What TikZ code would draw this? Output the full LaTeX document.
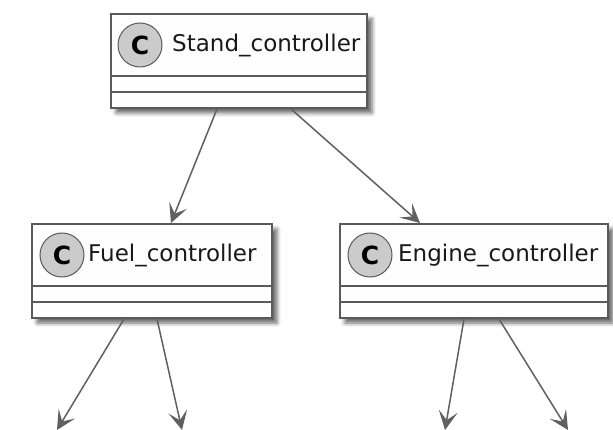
\documentclass[tikz,border=0pt]{standalone}
\usepackage{fontspec}
\setmainfont{DejaVu Sans}
\usetikzlibrary{arrows.meta,shadows.blur,calc}
\definecolor{boxline}{HTML}{5A5A5A}
\definecolor{boxfill}{HTML}{FEFEFE}
\definecolor{circfill}{HTML}{CBCBCB}
\definecolor{arrowcol}{HTML}{606060}
\tikzset{
  classbox/.style={draw=boxline, line width=2pt, fill=boxfill, inner sep=0pt,
    blur shadow={shadow xshift=5pt, shadow yshift=-5pt, shadow blur radius=4pt, shadow opacity=60}},
  sepline/.style={draw=boxline, line width=1.6pt},
  cbadge/.style={circle, draw=boxline, line width=1pt, fill=circfill, minimum size=44pt, inner sep=0pt,
    font=\fontsize{25}{25}\selectfont\bfseries},
  cname/.style={anchor=base west, inner sep=0pt, font=\fontsize{23}{23}\selectfont, text=black!90},
  dep/.style={draw=arrowcol, line width=1.5pt, -{Stealth[length=19pt,width=19pt,inset=9pt]}}
}
\begin{document}
\begin{tikzpicture}[x=1pt,y=-1pt]
\useasboundingbox (0,0) rectangle (613,430);
% Stand_controller
\node[classbox, minimum width=256pt, minimum height=94pt] (stand) at (239,61) {};
\draw[sepline] ($(stand.north west)+(0,63)$) -- ($(stand.north east)+(0,63)$);
\draw[sepline] ($(stand.north west)+(0,79)$) -- ($(stand.north east)+(0,79)$);
\node[cbadge] (standc) at (140,45) {C};
\node[cname] (standt) at (172,52) {Stand\_controller};
% Fuel_controller
\node[classbox, minimum width=240pt, minimum height=94pt] (fuel) at (152,271) {};
\draw[sepline] ($(fuel.north west)+(0,63)$) -- ($(fuel.north east)+(0,63)$);
\draw[sepline] ($(fuel.north west)+(0,79)$) -- ($(fuel.north east)+(0,79)$);
\node[cbadge] (fuelc) at (62,255) {C};
\node[cname] (fuelt) at (88,262) {Fuel\_controller};
% Engine_controller
\node[classbox, minimum width=268pt, minimum height=94pt] (engine) at (474,271) {};
\draw[sepline] ($(engine.north west)+(0,63)$) -- ($(engine.north east)+(0,63)$);
\draw[sepline] ($(engine.north west)+(0,79)$) -- ($(engine.north east)+(0,79)$);
\node[cbadge] (enginec) at (370,255) {C};
\node[cname] (enginet) at (398,262) {Engine\_controller};
% free ends
\coordinate (f1) at (57,430);
\coordinate (f2) at (182,430);
\coordinate (e1) at (445,430);
\coordinate (e2) at (568,430);
% connectors
\draw[dep] ($(stand.south west)+(107,0)$) -- ($(fuel.north west)+(140,0)$);
\draw[dep] ($(stand.south west)+(181,0)$) -- ($(engine.north west)+(81,0)$);
\draw[dep] ($(fuel.south west)+(93,0)$) -- (f1);
\draw[dep] ($(fuel.south west)+(126,0)$) -- (f2);
\draw[dep] ($(engine.south west)+(125,0)$) -- (e1);
\draw[dep] ($(engine.south west)+(160,0)$) -- (e2);
\end{tikzpicture}
\end{document}
